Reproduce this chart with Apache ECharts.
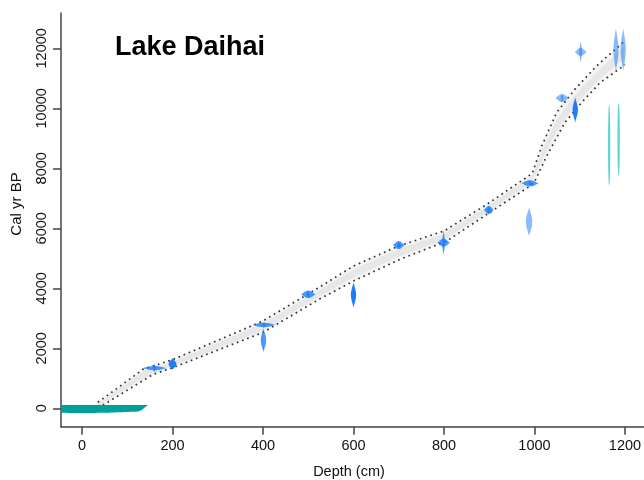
<!DOCTYPE html>
<html>
<head>
<meta charset="utf-8">
<title>Lake Daihai</title>
<script src="https://cdn.jsdelivr.net/npm/echarts@6/dist/echarts.min.js"></script>
<style>
  html, body { margin: 0; padding: 0; background: #fff; }
  #chart { width: 644px; height: 480px; }
</style>
</head>
<body>
<div id="chart"></div>
<script>
// axis ticks
var depthTicks = [0, 200, 400, 600, 800, 1000, 1200];
var ageTicks = [0, 2000, 4000, 6000, 8000, 10000, 12000];

// 95% range of the age-depth model (dotted lines)
var olderDepth = [35, 135, 200, 400, 526, 600, 700, 800, 895, 995, 1016, 1049, 1089, 1137, 1196];
var olderAge   = [200, 1300, 1620, 2910, 4050, 4743, 5410, 5910, 6800, 7830, 8740, 9860, 10630, 11410, 12200];
var youngerDepth = [35, 50, 157, 200, 400, 526, 600, 703, 806, 895, 990, 1001, 1027, 1067, 1104, 1145, 1200];
var youngerAge   = [30, 140, 1130, 1350, 2530, 3650, 4243, 4967, 5577, 6467, 7410, 7577, 8410, 9523, 10190, 10857, 11450];

// darker grey core of the model
var coreDepth = [35, 135, 200, 400, 526, 600, 700, 800, 900, 995, 1020, 1050, 1090, 1140, 1198];
var coreOld   = [150, 1230, 1560, 2830, 3960, 4620, 5320, 5830, 6780, 7750, 8700, 9650, 10450, 11250, 12050];
var coreYoung = [60, 1000, 1400, 2600, 3740, 4360, 5050, 5620, 6580, 7560, 8350, 9250, 10100, 10930, 11650];

// dated samples: [depth, age, depth half-range, age half-range]
var darkDates = [
  [200, 1480, 0, 200],
  [600, 3780, 0, 440],
  [1090, 9950, 0, 430]
];
var midDates = [
  [160, 1340, 28, 150],
  [402, 2780, 27, 110],
  [401, 2270, 0, 410],
  [500, 3800, 16, 130],
  [700, 5440, 13, 120],
  [799, 5520, 14, 440],
  [899, 6610, 11, 150],
  [990, 7500, 19, 90]
];
var lightDates = [
  [988, 6220, 0, 480],
  [1061, 10340, 15, 150],
  [1102, 11880, 13, 360],
  [1180, 11950, 0, 720],
  [1196, 11950, 0, 720]
];
var tealDates = [
  [1165, 8770, 0, 1370],
  [1186, 8970, 0, 1230]
];
// surface sample: [depth, age at top edge, depth half-range]
var surfaceDate = [[0, 110, 146]];

var FONT = 'Liberation Sans, Arial, sans-serif';

function pairs(xs, ys) {
  return xs.map(function (x, i) { return [x, ys[i]]; });
}

// polygon between two curves
function bandRender(xa, ya, xb, yb, color) {
  return function (params, api) {
    var pts = [], i;
    for (i = 0; i < xa.length; i++) pts.push(api.coord([xa[i], ya[i]]));
    for (i = xb.length - 1; i >= 0; i--) pts.push(api.coord([xb[i], yb[i]]));
    return { type: 'polygon', shape: { points: pts }, style: { fill: color } };
  };
}

// lens shape between two pixel points
function spindle(p0, p1, w, pw) {
  var n = 24, left = [], right = [];
  var dx = p1[0] - p0[0], dy = p1[1] - p0[1];
  var len = Math.sqrt(dx * dx + dy * dy) || 1;
  var nx = -dy / len, ny = dx / len;
  for (var i = 0; i <= n; i++) {
    var t = i / n;
    var off = w * Math.pow(Math.sin(Math.PI * t), pw);
    var x = p0[0] + dx * t, y = p0[1] + dy * t;
    left.push([x + nx * off, y + ny * off]);
    right.unshift([x - nx * off, y - ny * off]);
  }
  return left.concat(right);
}

function dateRender(color, scale, pw) {
  return function (params, api) {
    var d = api.value(0), a = api.value(1), dh = api.value(2), ah = api.value(3);
    var kids = [];
    if (dh > 0) {
      var th = Math.max(1.6, Math.min(4, 60 / dh));
      kids.push({ type: 'polygon', shape: { points: spindle(api.coord([d - dh, a]), api.coord([d + dh, a]), th, 1.2) },
        style: { fill: color } });
    }
    if (ah > 0) {
      var w = dh > 0 ? 1.4 : scale * 55 / Math.sqrt(ah);
      kids.push({ type: 'polygon', shape: { points: spindle(api.coord([d, a + ah]), api.coord([d, a - ah]), w, pw) },
        style: { fill: color } });
    }
    return { type: 'group', children: kids };
  };
}

function surfaceRender(params, api) {
  var d = api.value(0), a = api.value(1), dh = api.value(2);
  var l = api.coord([d - dh, a]), r = api.coord([d + dh, a]);
  var pts = [], n = 40, i, t;
  for (i = 0; i <= n; i++) { t = i / n; pts.push([l[0] + (r[0] - l[0]) * t, l[1]]); }
  for (i = n; i >= 0; i--) {
    t = i / n;
    var off = 8 * (0.75 + 0.25 * Math.sin(Math.PI * t)) * Math.min(1, (1 - t) / 0.06) * Math.min(1, t / 0.06);
    pts.push([l[0] + (r[0] - l[0]) * t, l[1] + off]);
  }
  return { type: 'polygon', shape: { points: pts }, style: { fill: '#00a19b' } };
}

function dateSeries(name, data, color, z, scale, pw) {
  return {
    name: name, type: 'custom', data: data, z: z, silent: true, clip: true,
    encode: { x: 0, y: 1 },
    renderItem: dateRender(color, scale, pw)
  };
}

var chart = echarts.init(document.getElementById('chart'), null, { renderer: 'canvas' });

var axisLineStyle = { color: '#444', width: 1.5 };
var plain = function (v) { return String(v); };

chart.setOption({
  animation: false,
  backgroundColor: '#fff',
  grid: { left: 61, right: 0, top: 13, bottom: 53.3, containLabel: false, outerBoundsMode: 'none' },
  xAxis: {
    type: 'value', min: -46.4, max: 1242,
    axisLine: { show: true, onZero: false, lineStyle: axisLineStyle },
    axisTick: { show: true, length: 8, lineStyle: axisLineStyle, customValues: depthTicks },
    axisLabel: { customValues: depthTicks, formatter: plain, color: '#111', fontFamily: FONT, fontSize: 14.5, margin: 12 },
    splitLine: { show: false }
  },
  yAxis: {
    type: 'value', min: -613, max: 13177,
    axisLine: { show: true, onZero: false, lineStyle: axisLineStyle },
    axisTick: { show: true, length: 8, lineStyle: axisLineStyle, customValues: ageTicks },
    axisLabel: { customValues: ageTicks, formatter: plain, rotate: 90, color: '#111', fontFamily: FONT, fontSize: 14.5, margin: 12 },
    splitLine: { show: false }
  },
  graphic: [
    { type: 'text', left: 115, top: 34, silent: true,
      style: { text: 'Lake Daihai', font: 'bold 27px ' + FONT, fill: '#000' } },
    { type: 'text', x: 349, y: 472, silent: true,
      style: { text: 'Depth (cm)', font: '14.5px ' + FONT, fill: '#111', align: 'center', verticalAlign: 'middle' } },
    { type: 'text', x: 17, y: 204, rotation: Math.PI / 2, silent: true,
      style: { text: 'Cal yr BP', font: '15px ' + FONT, fill: '#111', align: 'center', verticalAlign: 'middle' } }
  ],
  series: [
    { type: 'custom', data: [[0, 0]], z: 1, silent: true, clip: true,
      renderItem: bandRender(olderDepth, olderAge, youngerDepth, youngerAge, '#f5f5f5') },
    { type: 'custom', data: [[0, 0]], z: 2, silent: true, clip: true,
      renderItem: bandRender(coreDepth, coreOld, coreDepth, coreYoung, '#e7e7e7') },
    { type: 'line', data: pairs(olderDepth, olderAge), z: 3, symbol: 'none', silent: true,
      lineStyle: { color: '#333', width: 1.7, type: [1.7, 3.8] } },
    { type: 'line', data: pairs(youngerDepth, youngerAge), z: 3, symbol: 'none', silent: true,
      lineStyle: { color: '#333', width: 1.7, type: [1.7, 3.8] } },
    dateSeries('mid', midDates, 'rgba(30,125,250,0.8)', 4, 1, 1.4),
    dateSeries('light', lightDates, 'rgba(40,130,245,0.55)', 4, 1.25, 1.2),
    dateSeries('dark', darkDates, 'rgba(15,120,250,0.95)', 5, 1, 1.4),
    dateSeries('teal', tealDates, 'rgba(60,205,205,0.85)', 4, 0.75, 0.4),
    { type: 'custom', data: surfaceDate, z: 6, silent: true, clip: true,
      encode: { x: 0, y: 1 }, renderItem: surfaceRender }
  ]
});
</script>
</body>
</html>
